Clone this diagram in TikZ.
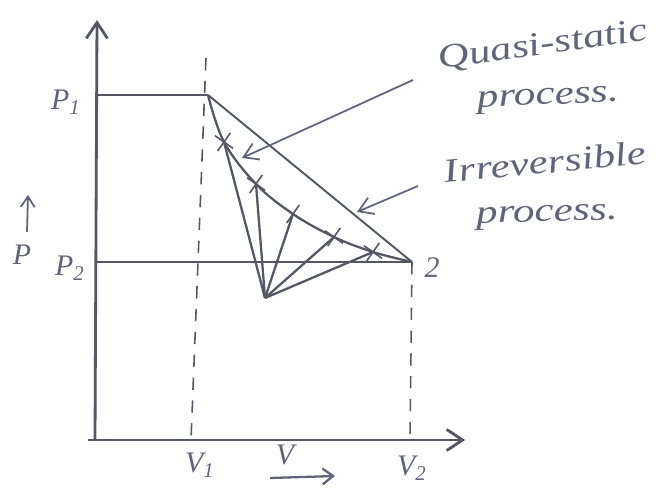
\documentclass[tikz,border=0pt]{standalone}
\usepackage{fontspec}
\setmainfont{Liberation Serif}
\usetikzlibrary{arrows.meta,shapes.misc}
\definecolor{ink}{RGB}{85,88,100}
\definecolor{penc}{RGB}{95,100,120}
\tikzset{
  axis/.style={ink,line width=1.6pt,-{Straight Barb[length=9pt,width=12pt]}},
  guide/.style={ink,line width=0.9pt},
  dashguide/.style={ink,line width=0.9pt,dash pattern=on 7pt off 6pt},
  proc/.style={ink,line width=1.3pt},
  callout/.style={penc,line width=1pt,-{Straight Barb[length=8pt,width=10pt]}},
  xmark/.style={cross out,draw=ink,line width=0.9pt,minimum size=8pt,inner sep=0pt,rotate=10},
  lbl/.style={text=penc,font=\itshape\fontsize{17}{19}\selectfont,inner sep=1pt},
  hand/.style={text=penc,font=\itshape\fontsize{19}{21}\selectfont,inner sep=0pt,xscale=1.3}
}
\begin{document}
\begin{tikzpicture}[x=0.02cm,y=-0.02cm]
\useasboundingbox (0,0) rectangle (670,489);
% coordinates
\coordinate (O) at (95,440);
\coordinate (Ytop) at (97,20);
\coordinate (Xend) at (465,440);
\coordinate (Xstart) at (88,440);
\coordinate (p1) at (208,95);
\coordinate (p2) at (412,262);
\coordinate (yp1) at (97,95);
\coordinate (yp2) at (97,262);
\coordinate (v1top) at (206,58);
\coordinate (v1bot) at (191,440);
\coordinate (v2bot) at (410,440);
\coordinate (c1) at (224,142);
\coordinate (c2) at (256,184);
\coordinate (c3) at (293,214);
\coordinate (c4) at (334,237);
\coordinate (c5) at (373,252);
\coordinate (low) at (265,298);
% axes
\draw[axis] (O) -- (Ytop);
\draw[axis] (Xstart) -- (Xend);
% guides
\draw[guide] (yp1) -- (p1);
\draw[guide] (yp2) -- (p2);
\draw[dashguide] (v1top) -- (v1bot);
\draw[dashguide] (p2) -- (v2bot);
% irreversible straight line
\draw[ink,line width=1.1pt] (p1) -- (p2);
% quasi-static curve
\draw[proc] plot[smooth,tension=0.6] coordinates {(p1) (c1) (c2) (c3) (c4) (c5) (p2)};
% fan from low point
\foreach \c in {c1,c2,c3,c4,c5} \draw[proc] (low) -- (\c);
% crosses
\foreach \c in {c1,c2,c3,c4,c5} \node[xmark] at (\c) {};
% callouts
\node[hand,rotate=10] (qs) at (543,46) {Quasi-static};
\node[hand,rotate=3] (qsp) at (548,100) {process.};
\node[hand,rotate=7] (ir) at (545,162) {Irreversible};
\node[hand,rotate=2] (irp) at (547,217) {process.};
\coordinate (qtail) at (413,80);
\coordinate (qtip) at (242,158);
\coordinate (itail) at (418,186);
\coordinate (itip) at (357,212);
\draw[callout] (qtail) -- (qtip);
\draw[callout] (itail) -- (itip);
% labels
\node[lbl] (P1) at (66,102) {P\textsubscript{1}};
\node[lbl] (P2) at (70,268) {P\textsubscript{2}};
\node[lbl] (P) at (22,255) {P};
\coordinate (pa1) at (27,232);
\coordinate (pa2) at (28,195);
\draw[penc,line width=1pt,-{Straight Barb[length=6pt,width=8pt]}] (pa1) -- (pa2);
\node[lbl] (two) at (432,268) {2};
\node[lbl] (V1) at (200,465) {V\textsubscript{1}};
\node[lbl] (V2) at (412,468) {V\textsubscript{2}};
\node[lbl] (V) at (285,455) {V};
\coordinate (va1) at (270,478);
\coordinate (va2) at (335,476);
\draw[penc,line width=1.3pt,-{Straight Barb[length=6pt,width=9pt]}] (va1) -- (va2);
\end{tikzpicture}
\end{document}
